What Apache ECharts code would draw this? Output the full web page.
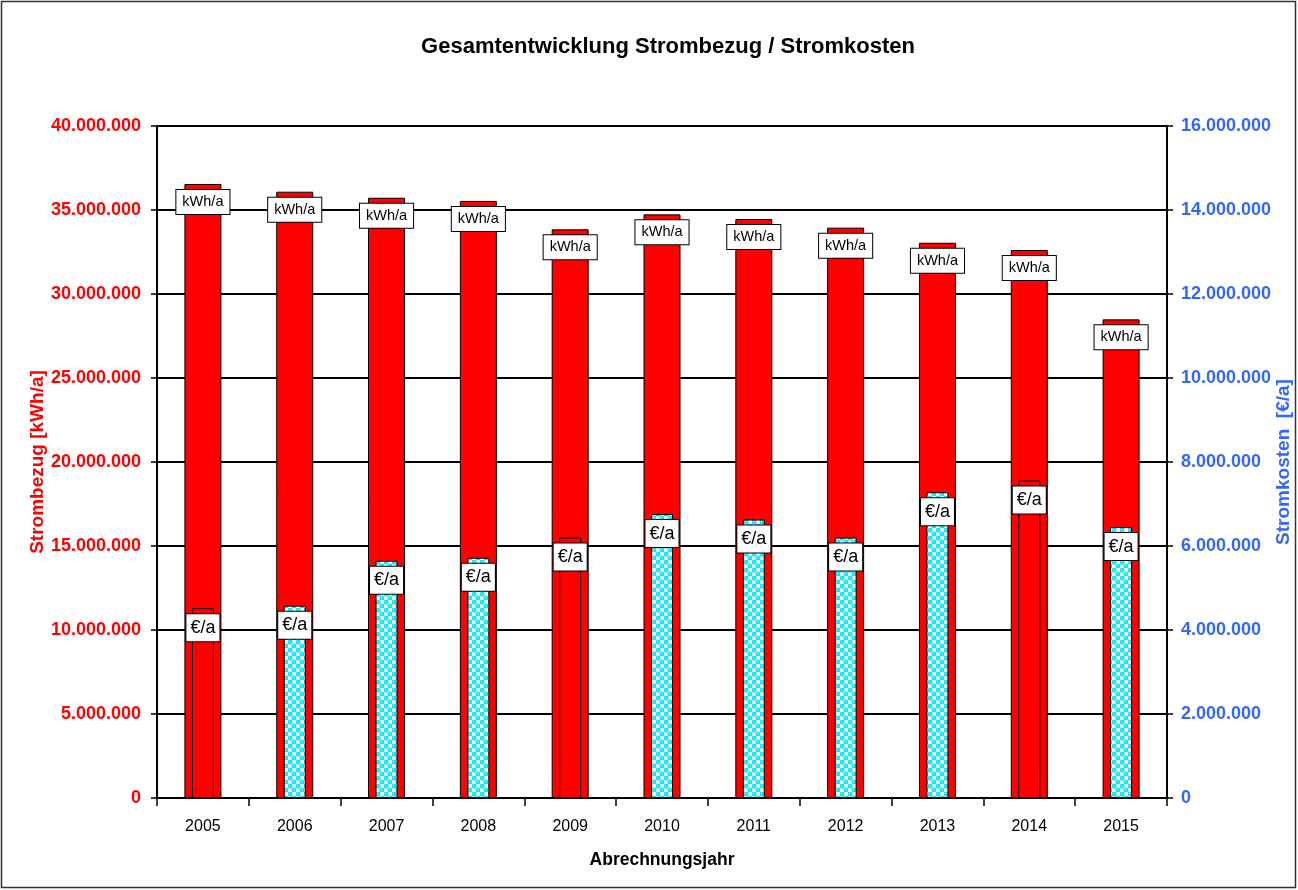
<!DOCTYPE html>
<html>
<head>
<meta charset="utf-8">
<script src="https://cdn.jsdelivr.net/npm/echarts@6/dist/echarts.min.js"></script>
<style>
html,body{margin:0;padding:0;background:#fff;overflow:hidden;}
#chart{width:1298px;height:890px;}
</style>
</head>
<body>
<div id="chart"></div>
<script>
// ---- data ----
const years = ['2005','2006','2007','2008','2009','2010','2011','2012','2013','2014','2015'];
const strombezug = [36550000, 36090000, 35730000, 35540000, 33850000, 34740000, 34460000, 33950000, 33050000, 32620000, 28490000];
const stromkosten = [4520000, 4580000, 5650000, 5720000, 6200000, 6760000, 6630000, 6200000, 7280000, 7560000, 6450000];
const leftTicks = [0, 5000000, 10000000, 15000000, 20000000, 25000000, 30000000, 35000000, 40000000];
const rightTicks = [0, 2000000, 4000000, 6000000, 8000000, 10000000, 12000000, 14000000, 16000000];
const title = 'Gesamtentwicklung Strombezug / Stromkosten';
const leftName = 'Strombezug [kWh/a]';
const rightName = 'Stromkosten  [€/a]';
const xName = 'Abrechnungsjahr';
const unitKwh = 'kWh/a';
const unitEur = '€/a';
// years whose cost bar is drawn solid red in the original
const costSolidYears = ['2005', '2009', '2014'];

// ---- pattern ----
function makePattern() {
  const c = document.createElement('canvas');
  c.width = 8; c.height = 8;
  const g = c.getContext('2d');
  g.fillStyle = '#ffffff';
  g.fillRect(0, 0, 8, 8);
  g.fillStyle = '#19e3f5';
  g.beginPath(); g.arc(2, 2, 2.6, 0, Math.PI * 2); g.fill();
  g.beginPath(); g.arc(6, 6, 2.6, 0, Math.PI * 2); g.fill();
  g.fillStyle = '#b8f6ff';
  g.fillRect(1, 1, 1, 1);
  g.fillRect(5, 5, 1, 1);
  return c;
}
const pattern = { image: makePattern(), repeat: 'repeat' };

function fmt(v) {
  return String(v).replace(/\B(?=(\d{3})+(?!\d))/g, '.');
}

const chart = echarts.init(document.getElementById('chart'), null, { renderer: 'canvas', width: 1298, height: 890 });
const FONT = '"Liberation Sans", Arial, sans-serif';

const costData = stromkosten.map((v, i) => ({
  value: v,
  itemStyle: costSolidYears.includes(years[i])
    ? { color: '#ff0000', borderColor: '#000', borderWidth: 1 }
    : { color: pattern, borderColor: '#000', borderWidth: 1 }
}));

const option = {
  backgroundColor: '#fff',
  animation: false,
  title: {
    text: title,
    left: 663,
    textAlign: 'center',
    top: 31,
    textStyle: { fontFamily: FONT, fontSize: 22, fontWeight: 'bold', color: '#000' }
  },
  grid: { left: 157, right: 131, top: 126, bottom: 92, containLabel: false, outerBoundsMode: 'none' },
  xAxis: [
    {
      type: 'category',
      data: years,
      boundaryGap: true,
      name: xName,
      nameLocation: 'middle',
      nameGap: 53,
      nameMoveOverlap: false,
      nameTextStyle: { fontFamily: FONT, fontSize: 17.5, fontWeight: 'bold', color: '#000' },
      axisLine: { lineStyle: { color: '#000', width: 2 } },
      axisTick: { show: true, length: 8, lineStyle: { color: '#000', width: 1.5 }, alignWithLabel: false },
      axisLabel: { fontFamily: FONT, fontSize: 16, color: '#000', margin: 21 },
      splitLine: { show: false }
    },
    {
      type: 'category',
      data: years,
      show: false
    }
  ],
  yAxis: [
    {
      type: 'value',
      min: 0, max: 40000000, interval: 5000000,
      position: 'left',
      name: leftName,
      nameLocation: 'middle',
      nameGap: 110,
      nameRotate: 90,
      nameMoveOverlap: false,
      nameTextStyle: { fontFamily: FONT, fontSize: 19, fontWeight: 'bold', color: '#ff0000' },
      axisLine: { show: true, lineStyle: { color: '#000', width: 2 } },
      axisTick: { show: true, length: 6, lineStyle: { color: '#000', width: 1.5 } },
      axisLabel: { fontFamily: FONT, fontSize: 18, fontWeight: 'bold', color: '#ff0000', margin: 16, formatter: fmt },
      splitLine: { show: true, lineStyle: { color: '#000', width: 2 } }
    },
    {
      type: 'value',
      min: 0, max: 16000000, interval: 2000000,
      position: 'right',
      name: rightName,
      nameLocation: 'middle',
      nameGap: 107,
      nameRotate: 90,
      nameMoveOverlap: false,
      nameTextStyle: { fontFamily: FONT, fontSize: 19, fontWeight: 'bold', color: '#3366ff' },
      axisLine: { show: true, lineStyle: { color: '#000', width: 2 } },
      axisTick: { show: true, length: 6, lineStyle: { color: '#000', width: 1.5 } },
      axisLabel: { fontFamily: FONT, fontSize: 18, fontWeight: 'bold', color: '#3366ff', margin: 14, formatter: fmt },
      splitLine: { show: false }
    }
  ],
  series: [
    {
      name: leftName,
      type: 'bar',
      xAxisIndex: 0,
      yAxisIndex: 0,
      data: strombezug,
      barWidth: 37,
      itemStyle: { color: '#ff0000', borderColor: '#000', borderWidth: 1 },
      label: {
        show: true,
        position: 'insideTop',
        distance: 6,
        formatter: () => unitKwh,
        fontFamily: FONT,
        fontSize: 14.5,
        lineHeight: 16,
        color: '#000',
        backgroundColor: '#fff',
        borderColor: '#000',
        borderWidth: 1,
        padding: [4, 6]
      },
      z: 2
    },
    {
      name: rightName,
      type: 'bar',
      xAxisIndex: 1,
      yAxisIndex: 1,
      data: costData,
      barWidth: 22,
      label: {
        show: true,
        position: 'insideTop',
        distance: 6,
        formatter: () => unitEur,
        fontFamily: FONT,
        fontSize: 18,
        lineHeight: 19,
        color: '#000',
        backgroundColor: '#fff',
        borderColor: '#000',
        borderWidth: 1,
        padding: [4, 4]
      },
      z: 3
    }
  ],
  graphic: [
    {
      type: 'rect',
      shape: { x: 1.5, y: 1.5, width: 1294, height: 886 },
      style: { fill: 'none', stroke: '#333', lineWidth: 1.5 },
      silent: true,
      z: 100
    }
  ]
};
chart.setOption(option);
</script>
</body>
</html>
